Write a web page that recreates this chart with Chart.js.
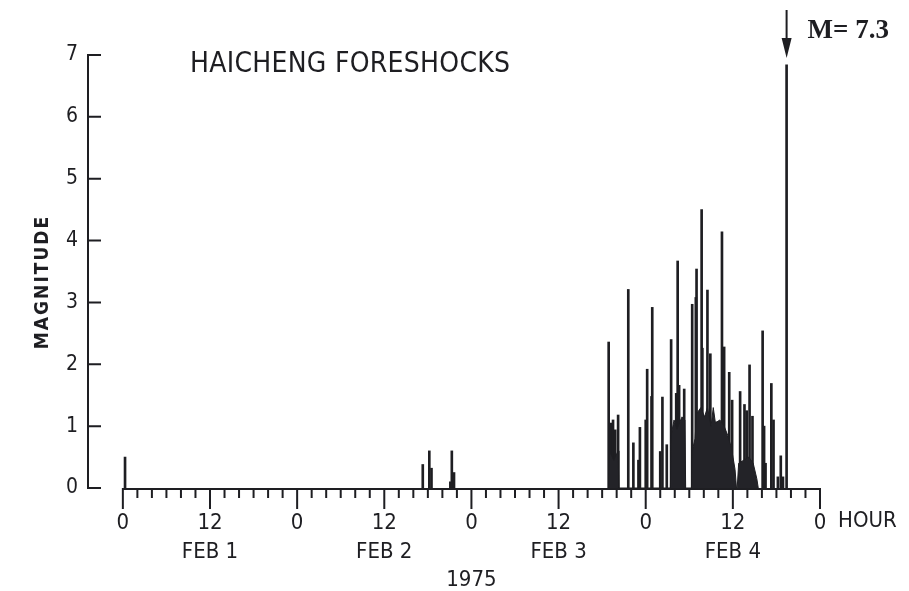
<!DOCTYPE html>
<html>
<head>
<meta charset="utf-8">
<title>Haicheng foreshocks</title>
<script src="https://cdn.jsdelivr.net/npm/chart.js@4.4.1/dist/chart.umd.min.js"></script>
<style>
    html, body { margin: 0; padding: 0; background: #ffffff; }
    #wrap { width: 909px; height: 591px; position: relative; }
</style>
</head>
<body>
<div id="wrap"><canvas id="quakeChart"></canvas></div>
<script>
// 时间轴：从 2 月 1 日 0 时起算的小时数
const spikeHours = [0.3, 41.3, 42.2, 42.5, 45.1, 45.3, 45.6,
    66.9, 67.2, 67.5, 67.8, 68.2, 69.6, 70.3, 71.0, 71.2, 72.0, 72.2, 72.8, 72.9,
    74.0, 74.3, 74.9, 75.5, 76.2, 76.4, 76.6, 77.3, 78.4, 78.9, 79.0, 79.7, 79.8,
    80.5, 80.9, 81.8, 82.5, 82.8, 83.5, 83.9, 85.0, 85.6, 85.9, 86.3, 86.7,
    88.1, 88.3, 88.5, 89.3, 89.6, 90.2, 90.6, 90.9, 91.4];
const spikeMags = [0.5, 0.38, 0.6, 0.32, 0.1, 0.6, 0.25,
    2.36, 1.05, 1.1, 0.94, 1.18, 3.21, 0.73, 0.45, 0.98, 1.1, 1.92, 1.48, 2.92,
    0.59, 1.47, 0.7, 2.40, 1.53, 3.67, 1.66, 1.6, 2.97, 3.08, 3.54, 4.5, 2.26,
    3.2, 2.17, 1.07, 4.14, 2.28, 1.87, 1.42, 1.56, 1.35, 1.25, 1.99, 1.16,
    2.54, 1.0, 0.4, 1.69, 1.1, 0.18, 0.52, 0.18, 6.84];

// 密集小震区的包络（图中涂黑部分）
const denseHours = [66.9, 67.0, 67.6, 68.2, 68.3,
    75.4, 75.5, 75.9, 76.3, 77.0, 77.4, 77.5,
    78.3, 78.4, 78.8, 79.0, 79.6, 80.1, 80.5, 81.0, 81.3, 81.6, 82.2, 82.8, 83.3, 83.8, 84.3, 84.5,
    84.6, 84.8, 85.5, 86.2, 86.8, 87.3, 87.5];
const denseMags = [0, 0.6, 0.45, 0.6, 0,
    0, 0.85, 1.1, 0.95, 1.15, 1.1, 0,
    0, 0.6, 0.8, 1.2, 1.3, 1.15, 1.3, 1.0, 1.3, 1.05, 1.1, 1.0, 0.85, 0.65, 0.3, 0,
    0, 0.4, 0.45, 0.5, 0.4, 0.15, 0];

const mainShockHour = 91.4;
const mainShockText = 'M= 7.3';

// 刻度
const majorTickHours = [0, 12, 24, 36, 48, 60, 72, 84, 96];
const majorTickLabels = [['0'], ['12', 'FEB 1'], ['0'], ['12', 'FEB 2'], ['0', '', '1975'],
    ['12', 'FEB 3'], ['0'], ['12', 'FEB 4'], ['0']];
const minorTickStep = 2;
const yTicks = [0, 1, 2, 3, 4, 5, 6, 7];

const INK = '#1e1e22';
const NARROW = "'Liberation Sans Narrow', 'DejaVu Sans Condensed', 'Roboto Condensed', sans-serif";

const xTickValues = [];
for (let h = 0; h <= 96; h += minorTickStep) xTickValues.push(h);

// 手绘风格的坐标轴、标题与主震箭头
const drawExtras = {
    id: 'drawExtras',
    afterDraw(chart) {
        const { ctx, chartArea } = chart;
        const xs = chart.scales.x, ys = chart.scales.y;
        ctx.save();
        ctx.strokeStyle = INK;
        ctx.fillStyle = INK;
        ctx.lineWidth = 2;

        // y 轴与向内刻度
        const ax = chartArea.left;
        ctx.beginPath();
        ctx.moveTo(ax, ys.getPixelForValue(7));
        ctx.lineTo(ax, ys.getPixelForValue(0));
        yTicks.forEach(v => {
            const py = ys.getPixelForValue(v);
            ctx.moveTo(ax - 1, py);
            ctx.lineTo(ax + 13, py);
        });
        ctx.stroke();

        // x 轴与向下刻度
        const base = ys.getPixelForValue(0) + 1;
        ctx.beginPath();
        ctx.moveTo(xs.getPixelForValue(0) - 1, base);
        ctx.lineTo(xs.getPixelForValue(96) + 1, base);
        xTickValues.forEach(h => {
            const px = xs.getPixelForValue(h);
            const len = majorTickHours.includes(h) ? 20 : 9;
            ctx.moveTo(px, base);
            ctx.lineTo(px, base + len);
        });
        ctx.stroke();

        // HOUR
        ctx.font = '22px ' + NARROW;
        ctx.textBaseline = 'middle';
        ctx.textAlign = 'left';
        ctx.fillText('HOUR', xs.getPixelForValue(96) + 18, 521);

        // MAGNITUDE
        ctx.save();
        ctx.translate(43, 282);
        ctx.rotate(-Math.PI / 2);
        ctx.textAlign = 'center';
        ctx.font = 'bold 19px ' + NARROW;
        ctx.letterSpacing = '2px';
        ctx.fillText('MAGNITUDE', 0, 0);
        ctx.restore();

        // 标题，按参考宽度拉开字距
        const title = 'HAICHENG FORESHOCKS';
        ctx.font = '28px ' + NARROW;
        ctx.letterSpacing = '0px';
        const w = ctx.measureText(title).width;
        const gap = Math.max(0, (320 - w) / (title.length - 1));
        ctx.letterSpacing = gap.toFixed(2) + 'px';
        ctx.textAlign = 'left';
        ctx.fillText(title, 190, 65);
        ctx.letterSpacing = '0px';

        // 主震箭头
        const mx = xs.getPixelForValue(mainShockHour);
        ctx.lineWidth = 2;
        ctx.beginPath();
        ctx.moveTo(mx, 10);
        ctx.lineTo(mx, 44);
        ctx.stroke();
        ctx.beginPath();
        ctx.moveTo(mx - 5, 38);
        ctx.lineTo(mx + 5, 38);
        ctx.lineTo(mx, 58);
        ctx.closePath();
        ctx.fill();

        ctx.font = 'bold 27px "Liberation Serif", "DejaVu Serif", serif';
        ctx.textAlign = 'left';
        ctx.fillText(mainShockText, mx + 21, 31);
        ctx.restore();
    }
};

function renderChart() {
    const ctx = document.getElementById('quakeChart').getContext('2d');
    return new Chart(ctx, {
        type: 'bar',
        data: {
            datasets: [{
                type: 'line',
                label: 'dense',
                data: denseHours.map((h, i) => ({ x: h, y: denseMags[i] })),
                borderColor: INK,
                backgroundColor: '#232328',
                borderWidth: 1,
                pointRadius: 0,
                tension: 0,
                fill: 'origin'
            }, {
                label: 'foreshocks',
                data: spikeHours.map((h, i) => ({ x: h, y: spikeMags[i] })),
                backgroundColor: INK,
                barThickness: 2,
                grouped: false
            }]
        },
        options: {
            responsive: true,
            maintainAspectRatio: false,
            animation: false,
            devicePixelRatio: 1,
            layout: { padding: { top: 55, right: 89, left: 0, bottom: 0 } },
            plugins: {
                legend: { display: false },
                tooltip: { enabled: false }
            },
            scales: {
                x: {
                    type: 'linear',
                    offset: false,
                    min: -4.8,
                    max: 96,
                    grid: { display: false, drawTicks: false, offset: false },
                    border: { display: false },
                    afterBuildTicks: s => { s.ticks = xTickValues.map(v => ({ value: v })); },
                    afterFit: s => { s.height = 103; },
                    ticks: {
                        autoSkip: false,
                        maxRotation: 0,
                        padding: 21,
                        color: INK,
                        font: { family: NARROW, size: 22, lineHeight: 1.3 },
                        callback: v => {
                            const k = majorTickHours.indexOf(v);
                            return k >= 0 ? majorTickLabels[k] : '';
                        }
                    }
                },
                y: {
                    min: 0,
                    max: 7,
                    grid: { display: false, drawTicks: false },
                    border: { display: false },
                    afterBuildTicks: s => { s.ticks = yTicks.map(v => ({ value: v })); },
                    afterFit: s => { s.width = 88; },
                    ticks: {
                        padding: 10,
                        color: INK,
                        font: { family: NARROW, size: 21 }
                    }
                }
            }
        },
        plugins: [drawExtras]
    });
}

document.addEventListener('DOMContentLoaded', () => {
    renderChart();
});
</script>
</body>
</html>
